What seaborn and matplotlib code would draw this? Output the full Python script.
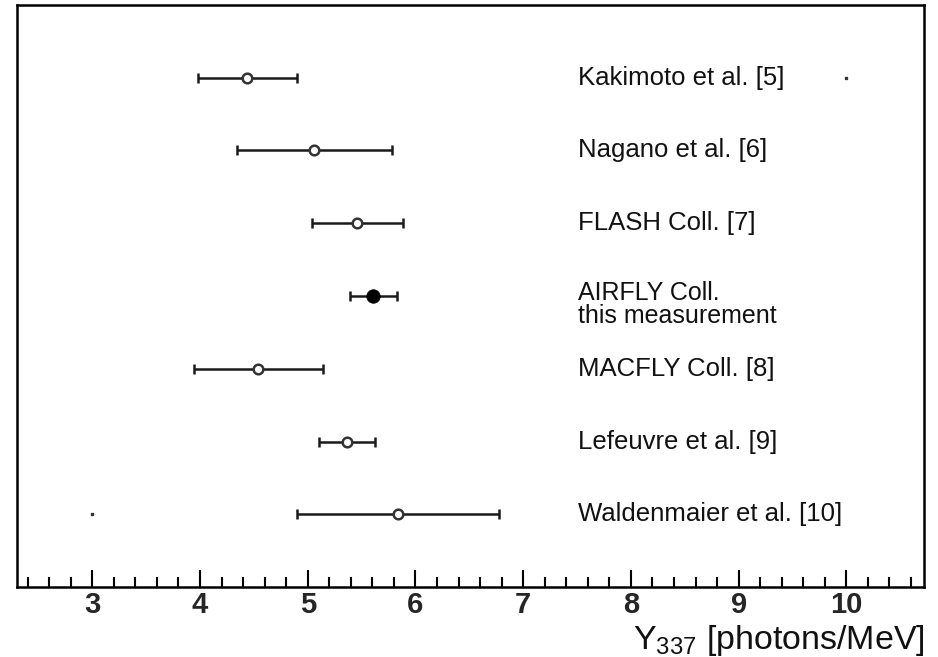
import matplotlib
matplotlib.use("Agg")
import matplotlib.pyplot as plt
from matplotlib.ticker import MultipleLocator
import seaborn as sns
import pandas as pd

# Fluorescence yield of the 337 nm band from several experiments
experiments = ["Kakimoto et al. [5]", "Nagano et al. [6]", "FLASH Coll. [7]",
               "AIRFLY Coll.", "MACFLY Coll. [8]", "Lefeuvre et al. [9]",
               "Waldenmaier et al. [10]"]
yield_337 = [4.44, 5.06, 5.46, 5.61, 4.54, 5.36, 5.84]
yield_err = [0.46, 0.72, 0.42, 0.22, 0.60, 0.26, 0.94]
row_pos = [7, 6, 5, 4, 3, 2, 1]
is_this_work = [False, False, False, True, False, False, False]

sns.set_theme(style="white")
plt.rcParams["font.family"] = ["Liberation Sans", "DejaVu Sans"]
plt.rcParams["mathtext.fontset"] = "custom"
plt.rcParams["mathtext.rm"] = "Liberation Sans"
plt.rcParams["mathtext.default"] = "regular"

df = pd.DataFrame({"experiment": experiments, "Y": yield_337, "err": yield_err,
                   "row": row_pos, "this": is_this_work})

fig = plt.figure(figsize=(9.38, 6.57), dpi=100)
ax = fig.add_axes([0.018, 0.1065, 0.967, 0.886])

ax.errorbar(df["Y"], df["row"], xerr=df["err"], fmt="none", ecolor="#1a1a1a",
            elinewidth=1.8, capsize=3.5, capthick=1.8, zorder=2)

others = df[~df["this"]]
ours = df[df["this"]]
sns.scatterplot(data=others, x="Y", y="row", ax=ax, marker="o", s=48,
                facecolor="white", edgecolor="#333333", linewidth=1.8,
                zorder=3, legend=False)
sns.scatterplot(data=ours, x="Y", y="row", ax=ax, marker="o", s=95,
                color="black", edgecolor="black", linewidth=0.5,
                zorder=3, legend=False)

# frame corner markers
ax.plot([10, 3], [7, 1], linestyle="none", marker="s", markersize=1.6,
        color="#333333", zorder=2)

for name, row, this in zip(df["experiment"], df["row"], df["this"]):
    if this:
        ax.text(7.51, row - 0.05, name, fontsize=18, va="baseline",
                ha="left", color="#111111")
        ax.text(7.51, row - 0.37, "this measurement", fontsize=18,
                va="baseline", ha="left", color="#111111")
    else:
        ax.text(7.51, row, name, fontsize=18.5, va="center", ha="left",
                color="#111111")

ax.set_xlim(2.3, 10.72)
ax.set_ylim(0, 8)
ax.set_yticks([])
ax.xaxis.set_major_locator(MultipleLocator(1))
ax.xaxis.set_minor_locator(MultipleLocator(0.2))
ax.tick_params(axis="x", which="major", direction="in", length=12, width=1.5,
               bottom=True, top=False, labelsize=21, pad=3, color="black")
ax.tick_params(axis="x", which="minor", direction="in", length=7, width=1.5,
               bottom=True, top=False, color="black")
for lab in ax.get_xticklabels():
    lab.set_fontweight("bold")
for sp in ax.spines.values():
    sp.set_visible(True)
    sp.set_color("black")
    sp.set_linewidth(1.8)

ax.set_xlabel("")
ax.set_ylabel("")
fig.text(925 / 938, 1 - 649 / 657, "Y$_{337}$ [photons/MeV]", fontsize=24.5,
         ha="right", va="baseline", color="#111111")

fig.savefig("out.png", dpi=100)
